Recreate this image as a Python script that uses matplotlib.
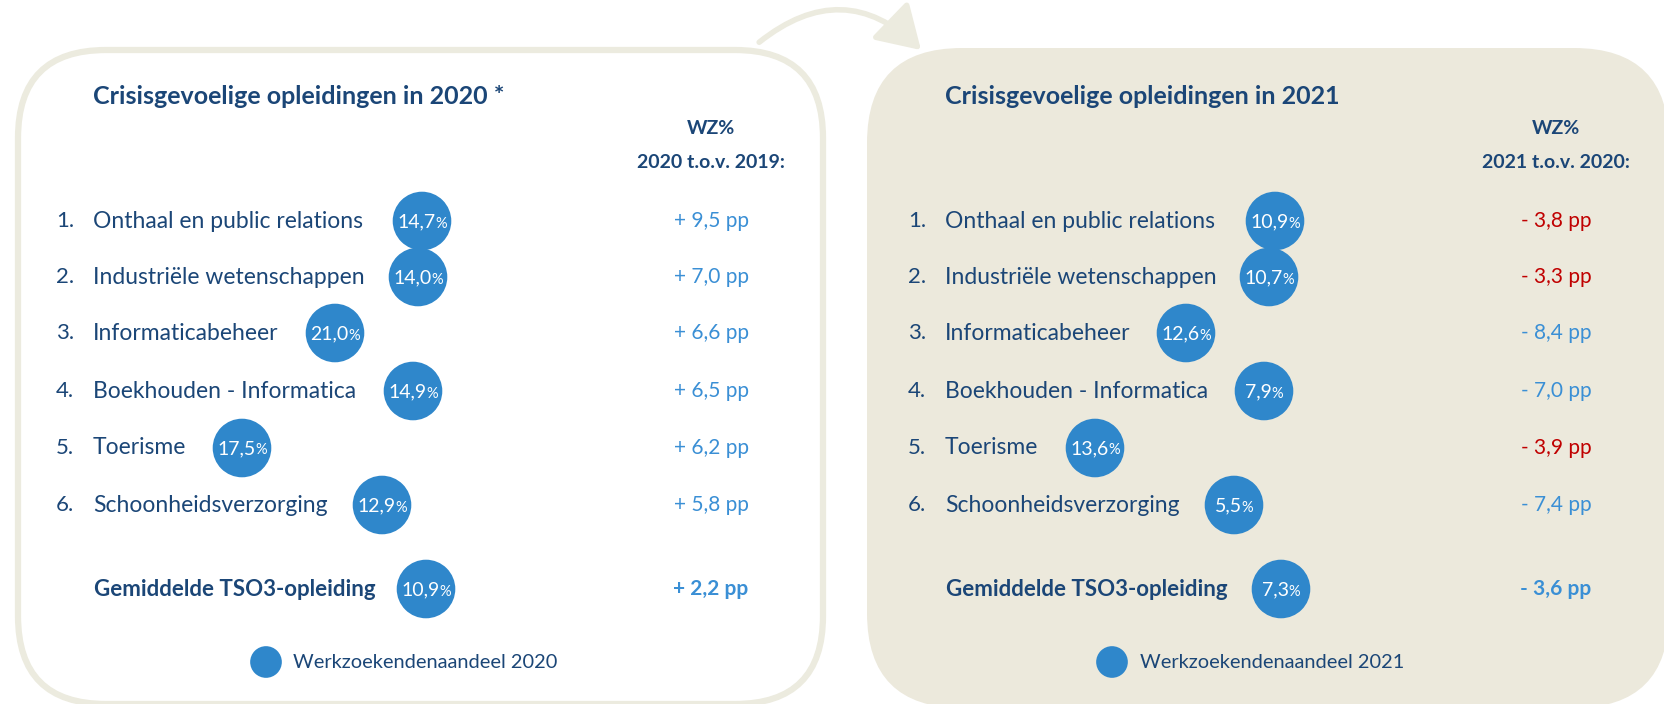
import matplotlib.pyplot as plt
from matplotlib.patches import FancyBboxPatch, FancyArrowPatch
from matplotlib.offsetbox import TextArea, HPacker, AnnotationBbox

# data
labels = [
    "Onthaal en public relations",
    "Industriële wetenschappen",
    "Informaticabeheer",
    "Boekhouden - Informatica",
    "Toerisme",
    "Schoonheidsverzorging",
]
avg_label = "Gemiddelde TSO3-opleiding"

share_2020 = [14.7, 14.0, 21.0, 14.9, 17.5, 12.9]
share_2020_avg = 10.9
diff_2020 = [9.5, 7.0, 6.6, 6.5, 6.2, 5.8]
diff_2020_avg = 2.2

share_2021 = [10.9, 10.7, 12.6, 7.9, 13.6, 5.5]
share_2021_avg = 7.3
diff_2021 = [-3.8, -3.3, -8.4, -7.0, -3.9, -7.4]
diff_2021_avg = -3.6
highlight_2021 = [True, True, False, False, True, False]

# layout (pixel positions)
row_y = [221, 277, 333, 391, 448, 505]
avg_y = 589
legend_y = 662
bubble_x_2020 = [422, 418, 335, 413, 242, 382]
bubble_x_2020_avg = 426
bubble_x_2021 = [1275, 1269, 1186, 1264, 1095, 1234]
bubble_x_2021_avg = 1281

NAVY = "#1b4677"
BLUE = "#2f87cb"
LIGHTBLUE = "#3a8fd5"
RED = "#c00000"
BEIGE = "#ecebdf"
FONT = "Lato"

plt.rcParams["font.family"] = [FONT, "DejaVu Sans"]

fig = plt.figure(figsize=(16.64, 7.04), dpi=100)
ax = fig.add_axes([0, 0, 1, 1])
ax.set_xlim(0, 1664)
ax.set_ylim(704, 0)
ax.axis("off")

# panels
ax.add_patch(FancyBboxPatch((18, 50), 805, 654, boxstyle="round,pad=0,rounding_size=88",
                            facecolor="white", edgecolor=BEIGE, lw=4.5, zorder=0))
ax.add_patch(FancyBboxPatch((867, 48), 802, 660, boxstyle="round,pad=0,rounding_size=95",
                            facecolor="#ece9dc", edgecolor="none", zorder=0))
ax.add_patch(FancyArrowPatch((757, 44), (923, 52), connectionstyle="arc3,rad=-0.45",
                             arrowstyle="-|>,head_length=1.3,head_width=0.8", mutation_scale=20,
                             color=BEIGE, lw=4, zorder=0))


def fmt_diff(v):
    sign = "+" if v >= 0 else "-"
    return f"{sign} {abs(v):.1f}".replace(".", ",") + " pp"


def bubble_label(x, y, v):
    num = TextArea(f"{v:.1f}".replace(".", ","), textprops=dict(color="white", fontsize=14))
    pct = TextArea("%", textprops=dict(color="white", fontsize=10.5))
    box = HPacker(children=[num, pct], align="baseline", pad=0, sep=0)
    ax.add_artist(AnnotationBbox(box, (x, y + 1), frameon=False, box_alignment=(0.5, 0.5), zorder=4))


def panel(x0, title, header, shares, share_avg, bx, bx_avg, diffs, diff_avg, colors, vx):
    ax.text(x0 + 37, 96, title, fontsize=18, fontweight="bold", color=NAVY, va="center")
    ax.text(vx, 128, "WZ%", fontsize=14, fontweight="bold", color=NAVY, ha="center", va="center")
    ax.text(vx, 163, header, fontsize=14, fontweight="bold", color=NAVY, ha="center", va="center")
    ax.scatter(bx + [bx_avg], row_y + [avg_y], s=1780, color=BLUE, edgecolors="none", zorder=3)
    for i, lab in enumerate(labels):
        ax.text(x0, row_y[i], f"{i + 1}.", fontsize=16, color=NAVY, va="center")
        ax.text(x0 + 37, row_y[i], lab, fontsize=16.5, color=NAVY, va="center")
        bubble_label(bx[i], row_y[i], shares[i])
        ax.text(vx, row_y[i], fmt_diff(diffs[i]), fontsize=15, color=colors[i], ha="center", va="center")
    ax.text(x0 + 38, avg_y, avg_label, fontsize=16, fontweight="bold", color=NAVY, va="center")
    bubble_label(bx_avg, avg_y, share_avg)
    ax.text(vx, avg_y, fmt_diff(diff_avg), fontsize=15, fontweight="bold", color=LIGHTBLUE,
            ha="center", va="center")


panel(56, "Crisisgevoelige opleidingen in 2020 *", "2020 t.o.v. 2019:", share_2020, share_2020_avg,
      bubble_x_2020, bubble_x_2020_avg, diff_2020, diff_2020_avg, [LIGHTBLUE] * 6, 711)
panel(908, "Crisisgevoelige opleidingen in 2021", "2021 t.o.v. 2020:", share_2021, share_2021_avg,
      bubble_x_2021, bubble_x_2021_avg, diff_2021, diff_2021_avg,
      [RED if h else LIGHTBLUE for h in highlight_2021], 1556)

# legends
ax.scatter([266, 1112], [legend_y, legend_y], s=520, color=BLUE, edgecolors="none", zorder=3)
ax.text(293, legend_y, "Werkzoekendenaandeel 2020", fontsize=14.4, color=NAVY, va="center")
ax.text(1140, legend_y, "Werkzoekendenaandeel 2021", fontsize=14.4, color=NAVY, va="center")

fig.savefig("out.png", dpi=100)
